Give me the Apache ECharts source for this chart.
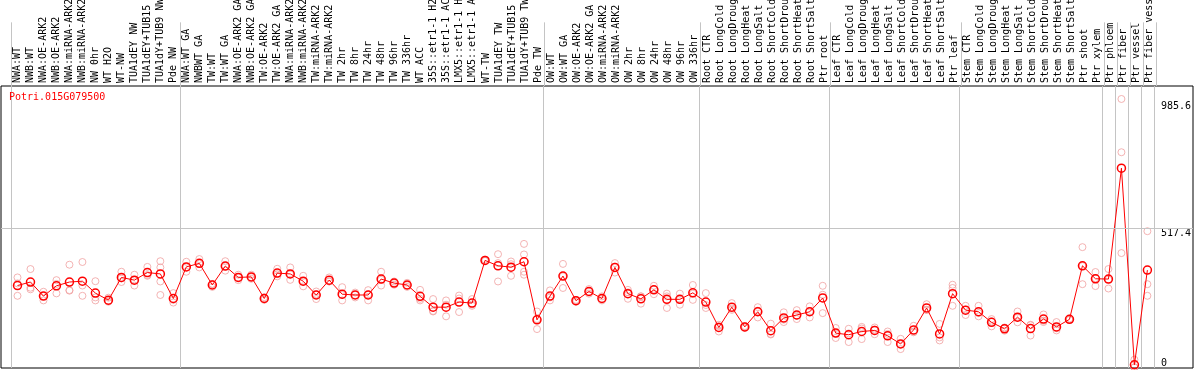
<!DOCTYPE html>
<html>
<head>
<meta charset="utf-8">
<script src="https://cdn.jsdelivr.net/npm/echarts@6/dist/echarts.min.js"></script>
<style>
    html, body { margin: 0; padding: 0; background: #fff; }
    #chart { width: 1194px; height: 370px; }
</style>
</head>
<body>
<div id="chart"></div>
<script>
var geneName = 'Potri.015G079500';

var categories = [
    'NWA:WT', 'NWB:WT', 'NWA:OE-ARK2', 'NWB:OE-ARK2', 'NWA:miRNA-ARK2', 'NWB:miRNA-ARK2', 'NW 0hr', 'WT H2O', 'WT-NW',
    'TUA1dEY NW', 'TUA1dEY+TUB15 NW', 'TUA1dY+TUB9 NW', 'Pde NW',
    'NWA:WT GA', 'NWBWT GA', 'TW:WT', 'TW:WT GA', 'NWA:OE-ARK2 GA', 'NWB:OE-ARK2 GA', 'TW:OE-ARK2', 'TW:OE-ARK2 GA',
    'NWA:miRNA-ARK2 GA', 'NWB:miRNA-ARK2 GA', 'TW:miRNA-ARK2', 'TW:miRNA-ARK2 GA',
    'TW 2hr', 'TW 8hr', 'TW 24hr', 'TW 48hr', 'TW 96hr', 'TW 336hr', 'WT ACC',
    '35S::etr1-1 H2O', '35S::etr1-1 ACC', 'LMX5::etr1-1 H2O', 'LMX5::etr1-1 ACC',
    'WT-TW', 'TUA1dEY TW', 'TUA1dEY+TUB15 TW', 'TUA1dY+TUB9 TW', 'Pde TW',
    'OW:WT', 'OW:WT GA', 'OW:OE-ARK2', 'OW:OE-ARK2 GA', 'OW:miRNA-ARK2', 'OW:miRNA-ARK2 GA',
    'OW 2hr', 'OW 8hr', 'OW 24hr', 'OW 48hr', 'OW 96hr', 'OW 336hr',
    'Root CTR', 'Root LongCold', 'Root LongDrought', 'Root LongHeat', 'Root LongSalt',
    'Root ShortCold', 'Root ShortDrought', 'Root ShortHeat', 'Root ShortSalt', 'Ptr root',
    'Leaf CTR', 'Leaf LongCold', 'Leaf LongDrought', 'Leaf LongHeat', 'Leaf LongSalt',
    'Leaf ShortCold', 'Leaf ShortDrought', 'Leaf ShortHeat', 'Leaf ShortSalt', 'Ptr leaf',
    'Stem CTR', 'Stem LongCold', 'Stem LongDrought', 'Stem LongHeat', 'Stem LongSalt',
    'Stem ShortCold', 'Stem ShortDrought', 'Stem ShortHeat', 'Stem ShortSalt', 'Ptr shoot', 'Ptr xylem',
    'Ptr phloem', 'Ptr fiber', 'Ptr vessel', 'Ptr fiber vessel'
];

// index of the first category of each block (a grey line is drawn on its left)
var groupStarts = [0, 13, 41, 53, 63, 73, 84, 85, 86, 87];

var yTicks = [0, 517.4, 985.6];
var yMax = 1043;

// mean expression per sample
var means = [
    305, 318, 266, 304, 318, 321, 277, 251, 335, 325, 353, 348, 257,
    374, 387, 307, 377, 335, 337, 257, 351, 348, 321, 270, 325, 273, 270, 270, 329, 314, 307, 265,
    225, 225, 244, 240, 398, 378, 373, 393, 178,
    266, 340, 249, 283, 257, 372, 275, 256, 289, 254, 254, 278,
    244, 150, 225, 152, 208, 138, 185, 196, 208, 259,
    129, 123, 135, 139, 119, 89, 141, 222, 126, 275,
    214, 208, 169, 145, 188, 146, 181, 152, 180, 378, 330,
    329, 739, 12, 362
];

// individual replicates per sample
var reps = [
    [335, 267, 313], [366, 291, 297], [282, 250, 266], [325, 276, 311], [382, 286, 288], [392, 305, 267],
    [321, 261, 250], [260, 245, 248], [356, 318, 331], [345, 305, 325], [374, 341, 344], [395, 372, 320, 270],
    [277, 242, 252],
    [393, 356, 373], [403, 372, 386], [310, 300, 311], [395, 360, 376], [345, 325, 335], [345, 330, 336],
    [262, 252, 257], [367, 339, 347], [372, 326, 346], [341, 302, 320], [283, 255, 272], [335, 320, 320],
    [299, 250, 270], [279, 261, 270], [288, 250, 272], [356, 305, 326], [320, 308, 314], [315, 300, 306],
    [289, 250, 256], [255, 209, 211], [250, 191, 234], [268, 207, 257], [255, 235, 230], [401, 396, 397],
    [421, 388, 320], [394, 341, 384], [459, 420, 356, 345], [209, 144, 181],
    [287, 250, 261], [385, 296, 339], [252, 245, 250], [292, 275, 282], [265, 250, 256], [388, 353, 375],
    [289, 256, 280], [265, 238, 265], [304, 273, 290], [275, 222, 265], [275, 234, 253], [307, 252, 275],
    [277, 222, 233], [160, 135, 155], [240, 215, 220], [155, 148, 153], [225, 187, 212], [164, 126, 124],
    [206, 170, 179], [214, 181, 193], [228, 187, 209], [304, 271, 203],
    [148, 111, 128], [145, 96, 128], [152, 107, 146], [150, 125, 142], [135, 96, 126], [108, 70, 89],
    [156, 135, 132], [236, 215, 215], [163, 102, 113], [308, 296, 230],
    [230, 196, 216], [230, 191, 203], [172, 154, 181], [150, 138, 147], [209, 169, 186], [160, 120, 158],
    [198, 170, 175], [170, 139, 147], [183, 178, 179], [447, 310, 377], [355, 303, 332],
    [366, 294, 327], [995, 798, 425], [31, 2, 3], [506, 310, 267]
];

var mono = 'DejaVu Sans Mono, monospace';

var repPoints = [];
reps.forEach(function (r, i) {
    r.forEach(function (v) { repPoints.push([i, v]); });
});

function isGroupStart(index) {
    return groupStarts.indexOf(index) >= 0;
}

var groupLine = {
    show: true,
    interval: isGroupStart,
    lineStyle: {color: '#c4c4c4', width: 1}
};

var myChart = echarts.init(document.getElementById('chart'));
var option = {
    animation: false,
    title: {
        text: geneName,
        left: 9,
        top: 92,
        padding: 0,
        textStyle: {color: '#ff0000', fontFamily: mono, fontSize: 10, fontWeight: 'normal'}
    },
    grid: [
        {left: 1, right: 1, top: 86, bottom: 2, show: true, borderColor: '#000', borderWidth: 1},
        {left: 11, right: 38, top: 86, bottom: 2},
        {left: 11, right: 38, top: 0, height: 86}
    ],
    xAxis: [
        {gridIndex: 0, type: 'value', min: 0, max: 1, show: false},
        {
            gridIndex: 1, type: 'category', data: categories, boundaryGap: true,
            axisLine: {show: false}, axisTick: {show: false}, axisLabel: {show: false},
            splitLine: groupLine
        },
        {
            gridIndex: 2, type: 'category', data: categories, boundaryGap: true, position: 'bottom',
            axisLine: {show: false}, axisTick: {show: false},
            axisLabel: {inside: true, rotate: 90, interval: 0, margin: 3, fontFamily: mono, fontSize: 10, color: '#000'},
            splitLine: groupLine
        }
    ],
    yAxis: [
        {gridIndex: 0, type: 'value', min: 0, max: yMax, show: false},
        {
            gridIndex: 1, type: 'value', min: 0, max: yMax, position: 'right',
            axisLine: {show: false}, axisTick: {show: false}, splitLine: {show: false},
            axisLabel: {
                customValues: yTicks, margin: 7, align: 'left', verticalAlign: 'top',
                verticalAlignMinLabel: 'bottom',
                fontFamily: mono, fontSize: 10, color: '#000'
            }
        },
        {gridIndex: 2, type: 'value', show: false}
    ],
    series: [
        {
            type: 'line', xAxisIndex: 0, yAxisIndex: 0, data: [],
            markLine: {
                silent: true, symbol: ['none', 'none'], animation: false,
                label: {show: false},
                lineStyle: {color: '#c4c4c4', width: 1, type: 'solid'},
                data: [{yAxis: yTicks[1]}]
            }
        },
        {
            name: 'replicates', type: 'scatter', xAxisIndex: 1, yAxisIndex: 1,
            data: repPoints, symbol: 'circle', symbolSize: 7,
            itemStyle: {color: 'rgba(0,0,0,0)', borderColor: '#f0a0a0', borderWidth: 1}
        },
        {
            name: 'mean', type: 'line', xAxisIndex: 1, yAxisIndex: 1,
            data: means, symbol: 'circle', symbolSize: 8, showAllSymbol: true,
            lineStyle: {color: '#ff0000', width: 1},
            itemStyle: {color: 'rgba(0,0,0,0)', borderColor: '#ff0000', borderWidth: 1.5}
        }
    ]
};
myChart.setOption(option);
</script>
</body>
</html>
